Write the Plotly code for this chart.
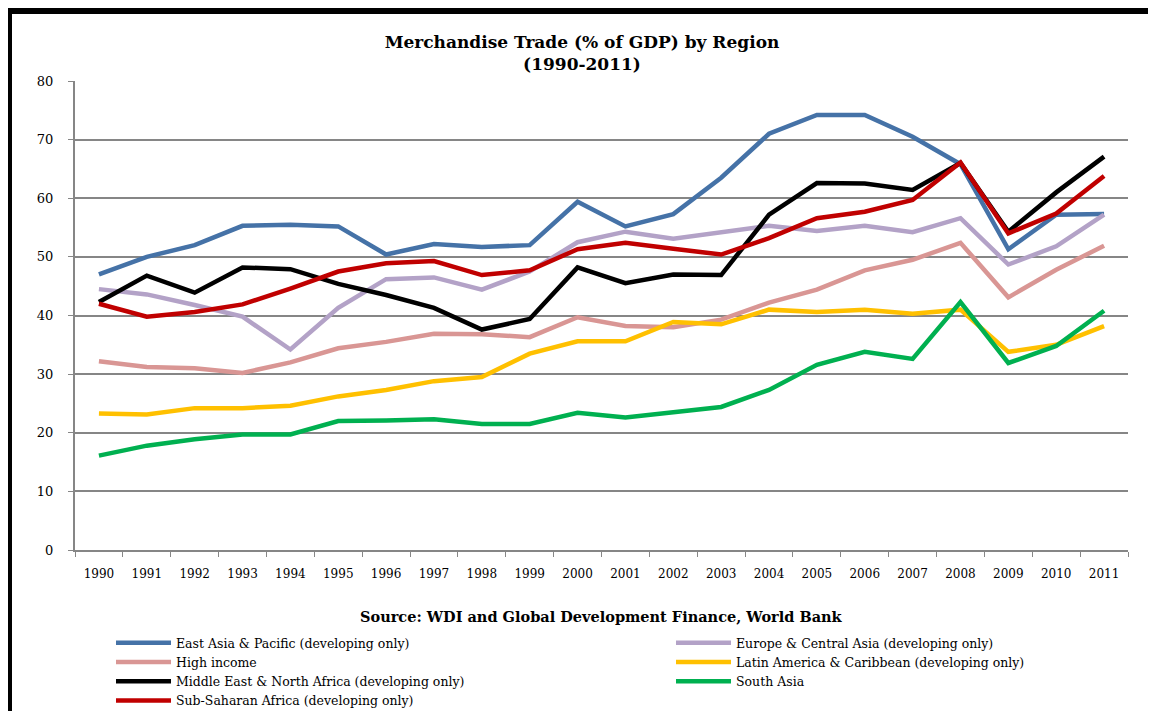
import plotly.graph_objects as go

years = [str(y) for y in range(1990, 2012)]

east_asia = [47.0, 50.0, 52.0, 55.3, 55.5, 55.2, 50.4, 52.2, 51.7, 52.0, 59.4, 55.2,
             57.3, 63.5, 71.0, 74.2, 74.2, 70.5, 65.8, 51.3, 57.2, 57.3]
europe = [44.5, 43.6, 41.8, 39.8, 34.2, 41.3, 46.2, 46.5, 44.4, 47.5, 52.5, 54.3,
          53.1, 54.2, 55.3, 54.4, 55.3, 54.2, 56.6, 48.7, 51.8, 57.2]
high_income = [32.2, 31.2, 31.0, 30.2, 32.0, 34.4, 35.5, 36.9, 36.8, 36.3, 39.7, 38.2,
               38.0, 39.3, 42.2, 44.4, 47.7, 49.5, 52.4, 43.1, 47.8, 51.9]
latin = [23.3, 23.1, 24.2, 24.2, 24.6, 26.2, 27.3, 28.8, 29.5, 33.5, 35.6, 35.6,
         38.9, 38.5, 41.0, 40.6, 41.0, 40.3, 41.0, 33.8, 35.0, 38.2]
mena = [42.3, 46.8, 43.9, 48.2, 47.9, 45.4, 43.5, 41.3, 37.6, 39.4, 48.2, 45.5,
        47.0, 46.9, 57.2, 62.6, 62.5, 61.4, 66.0, 54.3, 61.0, 67.1]
south_asia = [16.1, 17.8, 18.9, 19.7, 19.7, 22.0, 22.1, 22.3, 21.5, 21.5, 23.4, 22.6,
              23.5, 24.4, 27.3, 31.6, 33.8, 32.6, 42.3, 31.9, 34.8, 40.8]
ssa = [42.0, 39.8, 40.6, 41.9, 44.6, 47.5, 48.9, 49.3, 46.9, 47.7, 51.3, 52.4,
       51.4, 50.4, 53.2, 56.6, 57.7, 59.7, 66.1, 54.0, 57.4, 63.8]

series_names = [
    "East Asia & Pacific (developing only)",
    "Europe & Central Asia (developing only)",
    "High income",
    "Latin America & Caribbean (developing only)",
    "Middle East & North Africa (developing only)",
    "South Asia",
    "Sub-Saharan Africa (developing only)",
]
series_values = [east_asia, europe, high_income, latin, mena, south_asia, ssa]
series_colors = ["#4572A7", "#B3A2C7", "#D99694", "#FFC000", "#000000", "#00B050", "#C00000"]
legend_column = ["legend", "legend2", "legend", "legend2", "legend", "legend2", "legend"]

FONT = "DejaVu Serif"
OFF = 8  # page body margin
W, H = 1156 - OFF, 711 - OFF
# plot area in page pixels: left 75, right 1128, top 81, bottom 550
ML, MT = 75 - OFF, 81 - OFF
MR = W - (1128 - OFF)
MB = H - (550 - OFF)
PW, PH = W - ML - MR, H - MT - MB

fig = go.Figure()
for name, vals, col, leg in zip(series_names, series_values, series_colors, legend_column):
    fig.add_trace(go.Scatter(
        x=years, y=vals, name=name, mode="lines",
        line=dict(color=col, width=4.5), legend=leg,
    ))

def px_x(page_px):
    return (page_px - OFF - ML) / PW

def px_y(page_py):
    return (H - MB - (page_py - OFF)) / PH

shapes = [
    dict(type="rect", xref="paper", yref="paper", x0=px_x(5), x1=px_x(12), y0=px_y(720), y1=px_y(8),
         fillcolor="black", line=dict(width=0), layer="above"),
    dict(type="rect", xref="paper", yref="paper", x0=px_x(5), x1=px_x(1160), y0=px_y(14), y1=px_y(8),
         fillcolor="black", line=dict(width=0), layer="above"),
    dict(type="rect", xref="paper", yref="paper", x0=px_x(1153), x1=px_x(1155), y0=px_y(720), y1=px_y(8),
         fillcolor="black", line=dict(width=0), layer="above"),
]

legend_common = dict(orientation="v", xanchor="left", xref="paper", yanchor="top", yref="paper",
                     itemwidth=55, traceorder="normal",
                     font=dict(family=FONT, size=12.5, color="black"),
                     bgcolor="rgba(0,0,0,0)")

fig.update_layout(
    width=W, height=H,
    margin=dict(l=ML, r=MR, t=MT, b=MB, autoexpand=False),
    paper_bgcolor="white", plot_bgcolor="white",
    font=dict(family=FONT, size=12, color="black"),
    title=dict(text="<b>Merchandise Trade (% of GDP) by Region<br>(1990-2011)</b>",
               x=0.5, xref="container", xanchor="center",
               y=1 - 40 / H, yref="container", yanchor="middle",
               font=dict(family=FONT, size=17, color="black")),
    xaxis=dict(type="category", range=[-0.5, 21.5], tickson="boundaries",
               ticks="outside", ticklen=5, tickcolor="#868686", tickwidth=1,
               showline=True, linecolor="#868686", linewidth=2,
               showgrid=False, ticklabelstandoff=12,
               tickfont=dict(family=FONT, size=12, color="black")),
    yaxis=dict(range=[0, 80], dtick=10, tick0=0,
               ticks="outside", ticklen=5, tickcolor="#868686", tickwidth=1,
               showline=True, linecolor="#868686", linewidth=2,
               showgrid=True, gridcolor="#868686", gridwidth=2,
               zeroline=False, ticklabelstandoff=12,
               tickfont=dict(family=FONT, size=13, color="black")),
    legend=dict(x=px_x(111), y=px_y(628), **legend_common),
    legend2=dict(x=px_x(671), y=px_y(628), **legend_common),
    annotations=[dict(text="<b>Source: WDI and Global Development Finance, World Bank</b>",
                      xref="paper", yref="paper", x=0.5, y=px_y(616),
                      xanchor="center", yanchor="middle", showarrow=False,
                      font=dict(family=FONT, size=14.5, color="black"))],
    shapes=shapes,
)

fig.write_html("out.html")
